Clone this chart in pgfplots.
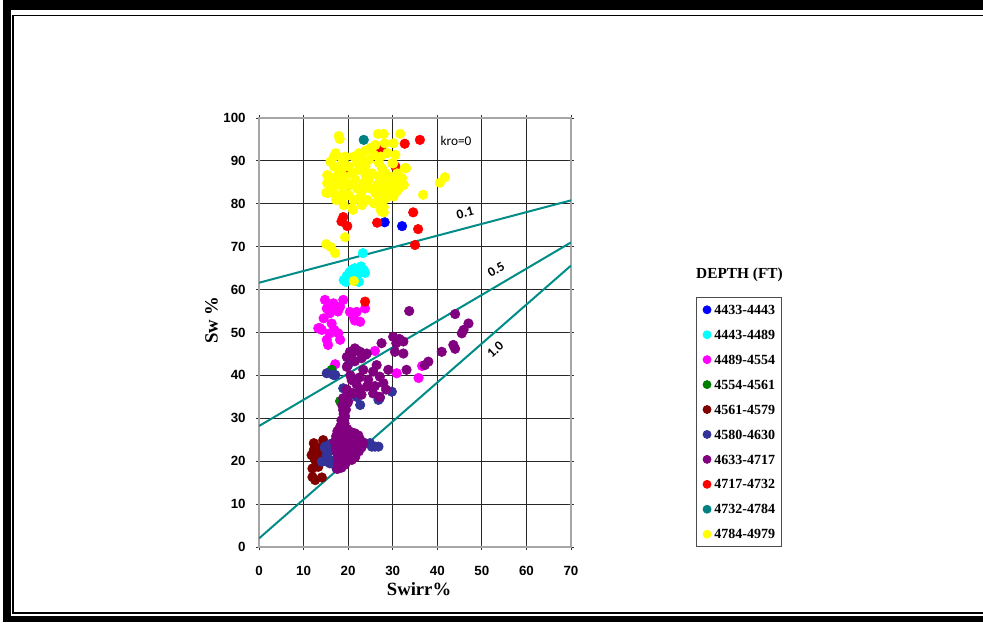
\documentclass[border=0pt]{standalone}
\usepackage{fontspec}
\setmainfont{Liberation Serif}
\newfontfamily\arialf{Liberation Sans}
\newfontfamily\calib{Carlito}
\usepackage{pgfplots}
\pgfplotsset{compat=1.18}
\definecolor{cBlue}{RGB}{0,0,255}
\definecolor{cCyan}{RGB}{0,255,255}
\definecolor{cMag}{RGB}{255,0,255}
\definecolor{cGreen}{RGB}{0,128,0}
\definecolor{cDRed}{RGB}{128,0,0}
\definecolor{cNavy}{RGB}{51,51,153}
\definecolor{cPurp}{RGB}{128,0,128}
\definecolor{cRed}{RGB}{255,0,0}
\definecolor{cTeal}{RGB}{0,128,128}
\definecolor{cYel}{RGB}{255,255,0}
\definecolor{kroLine}{RGB}{0,140,135}
\pgfplotsset{sc/.style={only marks, mark=*, mark size=3.6pt, color=#1, mark options={draw=#1, fill=#1, solid}}}
\begin{document}
\begin{tikzpicture}
\useasboundingbox (0pt,0pt) rectangle (737.25pt,466.5pt);
\fill[white] (0pt,0pt) rectangle (737.25pt,466.5pt);
\clip (0pt,0pt) rectangle (737.25pt,466.5pt);
% frame
\fill[black] (2.25pt,0pt) rectangle (8.25pt,466.5pt);
\fill[black] (2.25pt,459pt) rectangle (737.25pt,466.5pt);
\fill[black] (2.25pt,0pt) rectangle (737.25pt,4.5pt);
\draw[black, line width=1.2pt] (737.25pt,454.9pt) -- (9.9pt,454.9pt) -- (9.9pt,6.6pt) -- (737.25pt,6.6pt);
\begin{axis}[
  at={(194.25pt,56.25pt)}, anchor=south west,
  scale only axis, width=234pt, height=321.75pt,
  xmin=0, xmax=70, ymin=0, ymax=100,
  xtick={0,10,...,70}, ytick={0,10,...,100},
  grid=major, major grid style={black!85, line width=0.9pt},
  axis line style={gray!70, line width=0.8pt},
  tick align=center, major tick length=5pt, tick style={black!80, line width=0.6pt},
  /pgf/number format/assume math mode=true,
  ticklabel style={font=\arialf\bfseries\fontsize{10}{12}\selectfont},
  xticklabel style={yshift=-8pt},
  yticklabel style={xshift=-4pt},
  xlabel={Swirr\%}, ylabel={Sw \%},
  xlabel style={at={(axis description cs:0.513,-0.113)}, anchor=base, font=\bfseries\fontsize{14}{16}\selectfont},
  ylabel style={at={(axis description cs:-0.152,0.529)}, anchor=center, font=\bfseries\fontsize{14}{16}\selectfont},
  legend style={at={(axis description cs:1.4006,0.5834)}, anchor=north west, draw=black!70, line width=0.6pt,
    font=\bfseries\fontsize{10.5}{12}\selectfont, inner xsep=5pt, inner ysep=6pt, row sep=11.7pt,
    nodes={inner sep=0pt, text height=7pt, text depth=0pt},
    /tikz/every odd column/.append style={column sep=2.5pt}},
  legend cell align=left,
  legend image code/.code={\draw[#1, mark size=3pt] plot coordinates {(3pt,0pt)};},
]
\addplot[sc=cBlue] coordinates {(28.2,75.7) (32.1,74.8)};
\addlegendentry{4433-4443}
\addplot[sc=cCyan] coordinates {(23.3,68.5) (19.0,62.2) (19.7,63.2) (20.3,64.0) (20.8,64.6) (21.5,65.0) (22.2,64.6) (22.9,65.4) (23.5,64.6) (23.8,63.9) (22.0,63.2) (21.0,62.8) (19.5,61.8) (22.4,61.8) (20.5,63.5)};
\addlegendentry{4443-4489}
\addplot[sc=cMag] coordinates {(14.8,57.6) (16.7,56.8) (18.9,57.6) (18.2,56.0) (15.2,55.6) (15.9,54.5) (17.7,54.9) (20.4,54.8) (21.9,54.8) (21.2,53.7) (22.7,52.5) (16.3,52.1) (13.3,51.0) (14.1,50.6) (15.9,49.8) (17.8,49.8) (15.2,48.3) (18.2,48.3) (15.5,47.1) (23.8,55.6) (26.0,45.7) (17.1,42.6) (30.9,40.5) (35.8,39.4) (36.6,42.2) (16.5,56.2) (14.5,53.3) (16.9,50.6) (21.5,52.8) (13.7,51.0)};
\addlegendentry{4489-4554}
\addplot[sc=cGreen] coordinates {(16.3,41.3) (18.2,34.0) (16.5,22.8)};
\addlegendentry{4554-4561}
\addplot[sc=cDRed] coordinates {(12.3,24.2) (14.4,24.9) (12.3,22.6) (11.8,21.4) (12.6,20.3) (12.0,18.3) (13.3,18.7) (12.6,15.6) (14.1,16.2) (13.6,23.0) (13.0,19.5) (12.0,16.3) (13.4,21.5)};
\addlegendentry{4561-4579}
\addplot[sc=cNavy] coordinates {(14.8,23.0) (16.3,22.6) (15.2,21.4) (14.1,19.9) (15.9,19.5) (17.0,20.3) (17.4,18.3) (26.0,23.4) (24.9,24.2) (26.8,23.4) (22.7,33.1) (26.8,34.3) (17.1,40.1) (20.0,42.4) (18.9,37.0) (21.9,35.0) (26.8,35.0) (29.8,36.2) (15.2,40.5) (16.7,40.1) (27.1,34.7) (23.8,24.2) (25.3,23.4) (14.8,23.4) (15.5,20.3) (16.0,24.0) (15.0,20.0) (18.0,18.8)};
\addlegendentry{4580-4630}
\addplot[sc=cPurp] coordinates {(18.5,29.5) (19.2,28.8) (18.2,28.0) (17.6,27.0) (18.8,27.2) (19.8,27.5) (20.6,26.8) (21.5,26.5) (22.3,26.0) (17.3,25.8) (18.4,25.7) (19.5,25.9) (20.5,25.5) (21.6,25.3) (22.7,25.0) (23.3,24.3) (17.0,24.5) (18.0,24.4) (19.1,24.5) (20.0,24.2) (21.0,24.0) (22.0,23.8) (23.0,23.2) (17.2,23.2) (18.3,23.0) (19.3,23.0) (20.4,22.8) (21.4,22.6) (22.4,22.3) (17.5,22.0) (18.5,21.7) (19.5,21.6) (20.6,21.4) (21.6,21.0) (17.8,20.6) (18.8,20.4) (19.8,20.2) (20.8,20.3) (17.8,19.3) (18.5,18.5) (19.3,19.2) (17.6,18.2) (19.0,31.0) (19.5,32.0) (18.7,33.0) (19.8,33.5) (18.9,31.9) (19.3,30.5)
 (20.4,45.5) (21.9,45.9) (24.2,45.1) (19.7,44.3) (23.0,44.0) (21.5,43.3) (27.5,47.5) (30.1,49.0) (30.8,47.5) (32.4,47.9) (30.5,45.5) (32.4,45.1) (33.7,55.0) (38.0,43.2) (37.2,42.4) (33.1,41.3) (29.0,41.3) (26.4,42.4) (25.6,40.9) (27.1,39.7) (27.9,38.2) (28.5,36.7) (27.1,35.0) (25.6,35.8) (24.2,37.4) (22.7,36.7) (21.2,35.8) (19.7,36.7) (18.9,34.7) (20.0,33.9) (20.8,38.9) (21.9,37.9) (23.4,41.3) (41.0,45.5) (43.6,47.1) (44.0,46.2) (44.0,54.3) (45.5,49.8) (45.9,50.6) (47.0,52.1) (21.5,46.3) (22.7,45.5) (20.8,44.8) (23.9,44.8) (19.7,42.0) (20.5,40.0) (22.5,39.5) (24.5,39.0) (26.0,37.5) (23.0,35.5) (20.5,36.0) (31.5,48.5)};
\addlegendentry{4633-4717}
\addplot[sc=cRed] coordinates {(27.3,93.0) (32.7,94.0) (36.1,94.9) (19.4,88.0) (30.6,88.7) (18.9,76.9) (18.5,75.9) (19.8,74.8) (26.5,75.6) (34.6,78.0) (35.7,74.1) (35.0,70.4) (23.8,57.2) (27.5,92.5)};
\addlegendentry{4717-4732}
\addplot[sc=cTeal] coordinates {(23.5,94.9)};
\addlegendentry{4732-4784}
\addplot[sc=cYel] coordinates {(17.9,95.8) (18.1,95.1) (26.7,96.3) (28.0,96.3) (31.7,96.3) (28.2,94.1) (30.2,94.1) (26.1,93.7) (25.0,93.0) (23.9,92.4) (22.4,91.8) (21.3,91.0) (17.2,91.8) (16.8,91.0) (16.0,89.8) (18.7,89.8) (22.0,89.6) (24.6,90.2) (26.9,89.5) (29.9,89.5) (32.7,88.3)
 (15.3,86.7) (16.4,86.0) (17.9,87.1) (19.4,86.3) (20.9,87.1) (22.4,87.9) (23.9,86.7) (25.4,87.1) (26.9,86.3) (28.4,87.1) (29.5,86.3) (31.0,87.1) (32.1,86.0) (15.3,84.8) (16.0,83.6) (17.5,84.4) (19.0,83.2) (20.5,84.4) (22.0,83.6) (23.5,84.8) (25.0,83.6) (26.5,84.4) (28.0,83.2) (29.5,84.4) (31.4,83.6) (32.5,84.4)
 (15.1,82.6) (17.2,82.1) (18.7,81.3) (20.1,82.1) (21.3,80.9) (22.8,81.7) (24.3,80.9) (25.8,80.1) (26.9,81.3) (28.5,81.3) (30.2,81.7) (30.9,82.9) (17.3,80.9) (19.0,79.7) (20.9,79.0) (23.1,79.7) (27.3,78.7) (28.0,78.0) (36.8,82.1)
 (20.1,88.7) (23.9,88.7) (27.6,88.3) (18.7,88.3) (21.6,85.6) (24.6,85.6) (27.6,85.2) (30.6,85.2) (17.9,85.6) (19.4,84.8) (23.1,82.9) (26.1,82.5) (29.1,82.9) (16.8,88.7) (19.4,91.0) (23.1,90.6) (25.8,91.4) (27.3,91.0) (28.8,91.8) (30.6,91.4)
 (40.6,84.9) (41.7,86.2) (15.1,70.6) (16.1,69.9) (17.1,68.5) (19.3,72.2) (21.3,62.0) (21.1,78.6) (27.5,78.2) (28.0,79.2) (15.5,82.5) (17.3,91.4) (32.4,84.4) (30.1,89.4) (33.0,88.3) (27.1,80.1)};
\addlegendentry{4784-4979}
\addplot[forget plot, no marks, sharp plot, color=kroLine, line width=1.5pt] coordinates {(0,61.6) (70,80.8)};
\addplot[forget plot, no marks, sharp plot, color=kroLine, line width=1.5pt] coordinates {(0,28.2) (70,71.0)};
\addplot[forget plot, no marks, sharp plot, color=kroLine, line width=1.5pt] coordinates {(0,2.0) (70,65.6)};
\node[font=\calib\fontsize{10}{12}\selectfont] at (axis cs:44.2,94.6) {kro=0};
\node[font=\calib\bfseries\fontsize{10}{12}\selectfont, rotate=15] at (axis cs:46.2,77.8) {0.1};
\node[font=\calib\bfseries\fontsize{10}{12}\selectfont, rotate=30] at (axis cs:53.2,64.6) {0.5};
\node[font=\calib\bfseries\fontsize{10}{12}\selectfont, rotate=42] at (axis cs:53.0,46.0) {1.0};
\end{axis}
\node[font=\bfseries\fontsize{11.5}{13}\selectfont] at (554.6pt,260.25pt) {DEPTH (FT)};
\end{tikzpicture}
\end{document}
